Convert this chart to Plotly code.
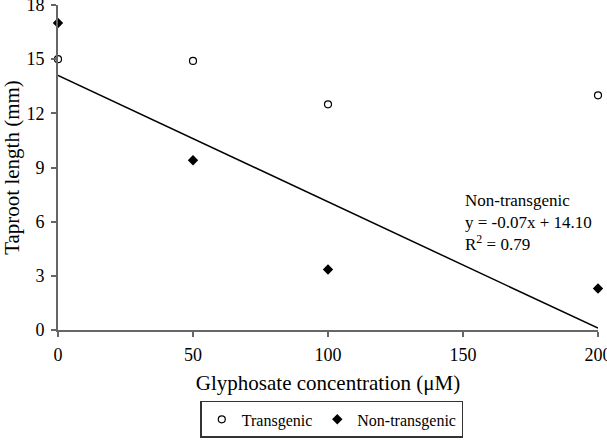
import plotly.graph_objects as go

concentration = [0, 50, 100, 200]
transgenic = [15.0, 14.9, 12.5, 13.0]
non_transgenic = [17.0, 9.4, 3.35, 2.3]
fit_slope = -0.07
fit_intercept = 14.10
fit_x = [0, 200]
fit_y = [fit_slope * x + fit_intercept for x in fit_x]

x_ticks = [0, 50, 100, 150, 200]
y_ticks = [0, 3, 6, 9, 12, 15, 18]

FONT = "Liberation Serif"

fig = go.Figure()
fig.add_trace(go.Scatter(
    x=concentration, y=transgenic, mode="markers", name="Transgenic",
    marker=dict(symbol="circle-open", size=7, color="black", line=dict(width=1.2, color="black")),
    cliponaxis=False,
))
fig.add_trace(go.Scatter(
    x=concentration, y=non_transgenic, mode="markers", name="Non-transgenic",
    marker=dict(symbol="diamond", size=8, color="black"),
    cliponaxis=False,
))
fig.add_trace(go.Scatter(
    x=fit_x, y=fit_y, mode="lines", showlegend=False,
    line=dict(color="black", width=1.5), cliponaxis=False,
))

fig.add_annotation(
    x=150, y=5.95, xref="x", yref="y", xanchor="left", yanchor="middle",
    text="Non-transgenic<br>y = -0.07x + 14.10<br>R<sup>2</sup> = 0.79",
    showarrow=False, align="left", font=dict(family=FONT, size=17, color="black"),
)

axis_common = dict(
    showline=True, linecolor="#666", linewidth=2, ticks="outside", ticklen=5,
    tickcolor="#666", tickwidth=1.5, showgrid=False, zeroline=False,
    tickfont=dict(family=FONT, size=18, color="black"),
    ticklabeloverflow="allow",
)

fig.update_xaxes(range=[0, 200], tickvals=x_ticks, ticklabelstandoff=2,
                 title=dict(text="Glyphosate concentration (μM)", font=dict(family=FONT, size=21, color="black"), standoff=12),
                 **axis_common)
fig.update_yaxes(range=[0, 18], tickvals=y_ticks, ticklabelstandoff=3,
                 title=dict(text="Taproot length (mm)", font=dict(family=FONT, size=21, color="black"), standoff=8),
                 **axis_common)

fig.update_layout(
    width=607, height=440,
    margin=dict(l=58, r=9, t=5, b=110, autoexpand=False),
    plot_bgcolor="white", paper_bgcolor="white",
    font=dict(family=FONT, color="black"),
    legend=dict(
        orientation="h", x=0.507, xanchor="center", y=-0.332, yanchor="bottom",
        bordercolor="#333", borderwidth=1.5, font=dict(family=FONT, size=16, color="black"),
        itemwidth=30, tracegroupgap=0,
    ),
)

fig.write_html("out.html")
